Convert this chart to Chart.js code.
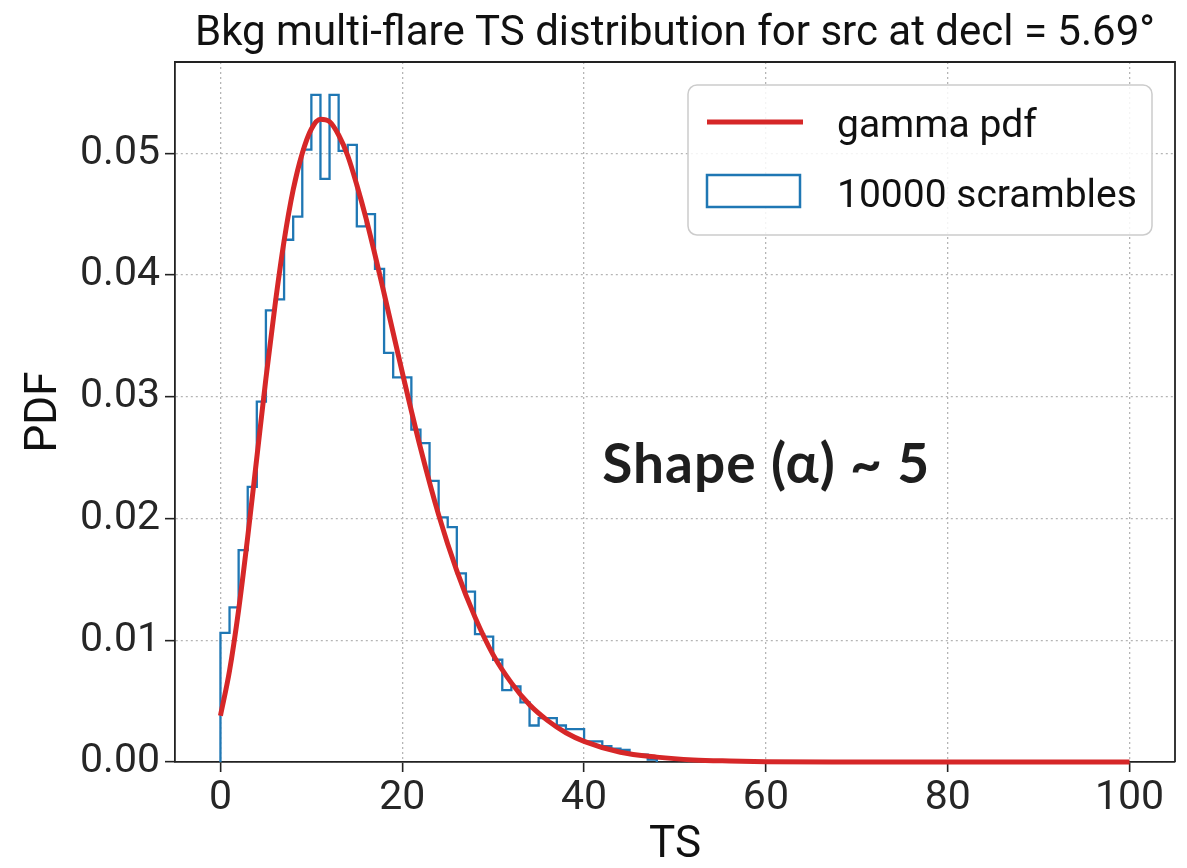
<!DOCTYPE html>
<html>
<head>
<meta charset="utf-8">
<script src="https://cdn.jsdelivr.net/npm/chart.js@4.4.1/dist/chart.umd.min.js"></script>
<style>
  html, body { margin: 0; padding: 0; background: #fff; }
  canvas { display: block; }
</style>
</head>
<body>
<canvas id="graficoTS" width="1187" height="868"></canvas>
<script>
// --- dados ---
const binStart = 0;
const binWidth = 1;
const scramblePdf = [
  0.0106, 0.0127, 0.0174, 0.0226, 0.0296, 0.0371, 0.0380, 0.0429, 0.0448, 0.0503,
  0.0548, 0.0479, 0.0548, 0.0502, 0.0507, 0.0440, 0.0450, 0.0405, 0.0336, 0.0316,
  0.0316, 0.0273, 0.0262, 0.0231, 0.0201, 0.0193, 0.0155, 0.0140, 0.0105, 0.0103,
  0.0084, 0.0059, 0.0062, 0.0049, 0.0030, 0.0036, 0.0036, 0.0030, 0.0027, 0.0027,
  0.0017, 0.0017, 0.0013, 0.0011, 0.0010, 0.0006, 0.0006, 0.0002
];
const gammaTS  = [0, 1, 2, 3, 4, 5, 6, 7, 8, 9, 10, 11, 12, 13, 14, 15, 16, 18, 20, 22, 24, 26, 28, 30, 32, 34, 36, 38, 40, 44, 48, 52, 56, 60, 70, 80, 90, 100];
const gammaPdf = [0.0038, 0.0075, 0.0125, 0.0185, 0.0250, 0.0315, 0.0375, 0.0428, 0.0470, 0.0500, 0.0520, 0.0528, 0.0526, 0.0515, 0.0498, 0.0474, 0.0447, 0.0385, 0.0320, 0.0258, 0.0203, 0.0157, 0.0119, 0.0088, 0.0065, 0.0047, 0.0034, 0.0024, 0.0017, 0.0008, 0.0004, 0.00017, 0.00008, 0.00003, 0.000005, 0, 0, 0];
const xTicks = [0, 20, 40, 60, 80, 100];
const yTicks = [0, 0.01, 0.02, 0.03, 0.04, 0.05];
const legendLabels = ['gamma pdf', '10000 scrambles'];
const titleText = 'Bkg multi-flare TS distribution for src at decl = 5.69°';
const shapeNote = 'Shape (α) ~ 5';
const notePos = { ts: 42, pdf: 0.0244 };

Chart.defaults.font.family = 'Roboto';

// contorno do histograma (estilo "step")
const histPoints = [{ x: binStart, y: 0 }];
scramblePdf.forEach((v, i) => histPoints.push({ x: binStart + i * binWidth, y: v }));
histPoints.push({ x: binStart + scramblePdf.length * binWidth, y: 0 });

const gammaPoints = gammaTS.map((x, i) => ({ x: x, y: gammaPdf[i] }));

// moldura superior/direita, como no matplotlib
const frame = {
  id: 'frame',
  beforeDatasetsDraw(chart) {
    const { ctx, chartArea: a } = chart;
    ctx.save();
    ctx.strokeStyle = '#222';
    ctx.lineWidth = 1.8;
    ctx.beginPath();
    ctx.moveTo(a.left, a.top);
    ctx.lineTo(a.right, a.top);
    ctx.lineTo(a.right, a.bottom);
    ctx.stroke();
    ctx.restore();
  }
};

// legenda dentro do gráfico + anotação
const extras = {
  id: 'extras',
  afterDraw(chart) {
    const { ctx, chartArea: a, scales } = chart;
    const ds = chart.data.datasets;
    ctx.save();
    const bx = a.right - 487, by = a.top + 23, bw = 464, bh = 150;
    ctx.beginPath();
    if (ctx.roundRect) ctx.roundRect(bx, by, bw, bh, 9); else ctx.rect(bx, by, bw, bh);
    ctx.fillStyle = 'rgba(255,255,255,0.85)';
    ctx.fill();
    ctx.strokeStyle = '#cccccc';
    ctx.lineWidth = 1.5;
    ctx.stroke();

    // amostra linha vermelha
    ctx.strokeStyle = ds[0].borderColor;
    ctx.lineWidth = 5;
    ctx.beginPath();
    ctx.moveTo(bx + 19, by + 37);
    ctx.lineTo(bx + 115, by + 37);
    ctx.stroke();
    // amostra caixa azul
    ctx.strokeStyle = ds[1].borderColor;
    ctx.lineWidth = 2.5;
    ctx.fillStyle = '#fff';
    ctx.fillRect(bx + 19, by + 90, 93, 32);
    ctx.strokeRect(bx + 19, by + 90, 93, 32);

    ctx.fillStyle = '#111';
    ctx.font = '39px Roboto';
    ctx.textBaseline = 'alphabetic';
    ctx.textAlign = 'left';
    ctx.fillText(legendLabels[0], bx + 149, by + 52);
    ctx.fillText(legendLabels[1], bx + 149, by + 122);

    // anotação
    ctx.fillStyle = '#1e1e1e';
    ctx.font = 'bold 55px Lato';
    if ('letterSpacing' in ctx) ctx.letterSpacing = '1px';
    ctx.textBaseline = 'middle';
    ctx.fillText(shapeNote, scales.x.getPixelForValue(notePos.ts), scales.y.getPixelForValue(notePos.pdf));
    ctx.restore();
  }
};

const gridOpts = { color: '#b5b5b5', lineWidth: 1.3, tickColor: '#222', tickLength: 10, tickWidth: 1.6, tickBorderDash: [] };
const borderOpts = { display: true, color: '#222', width: 1.8, dash: [2, 3] };

new Chart(document.getElementById('graficoTS'), {
  type: 'line',
  data: {
    datasets: [
      {
        label: legendLabels[0],
        data: gammaPoints,
        borderColor: '#d62728',
        borderWidth: 5,
        pointRadius: 0,
        cubicInterpolationMode: 'monotone',
        fill: false,
        clip: false
      },
      {
        label: legendLabels[1],
        data: histPoints,
        borderColor: '#1f77b4',
        borderWidth: 2.3,
        pointRadius: 0,
        stepped: 'before',
        fill: false,
        clip: false
      }
    ]
  },
  options: {
    responsive: false,
    animation: false,
    layout: { padding: { right: 12 } },
    plugins: {
      legend: { display: false },
      tooltip: { enabled: false },
      title: {
        display: true,
        text: titleText,
        fullSize: false,
        color: '#111',
        font: { size: 42, weight: 'normal', lineHeight: 1.2 },
        padding: { top: 9, bottom: 2.6 }
      }
    },
    scales: {
      x: {
        type: 'linear',
        min: -5,
        max: 105,
        afterBuildTicks: s => { s.ticks = xTicks.map(v => ({ value: v })); },
        afterFit: s => { s.height = 106; },
        ticks: { color: '#262626', font: { size: 41, lineHeight: 1 }, padding: 6 },
        grid: gridOpts,
        border: borderOpts,
        title: { display: true, text: 'TS', color: '#111', font: { size: 44, lineHeight: 1 }, padding: { top: 0, bottom: 0 } }
      },
      y: {
        min: 0,
        max: 0.0575,
        afterBuildTicks: s => { s.ticks = yTicks.map(v => ({ value: v })); },
        afterFit: s => { s.width = 175; },
        ticks: { color: '#262626', font: { size: 41 }, padding: 5, callback: v => v.toFixed(2) },
        grid: gridOpts,
        border: borderOpts,
        title: { display: true, text: 'PDF', color: '#111', font: { size: 44, lineHeight: 1 }, padding: { top: 23, bottom: 0 } }
      }
    }
  },
  plugins: [frame, extras]
});
</script>
</body>
</html>
